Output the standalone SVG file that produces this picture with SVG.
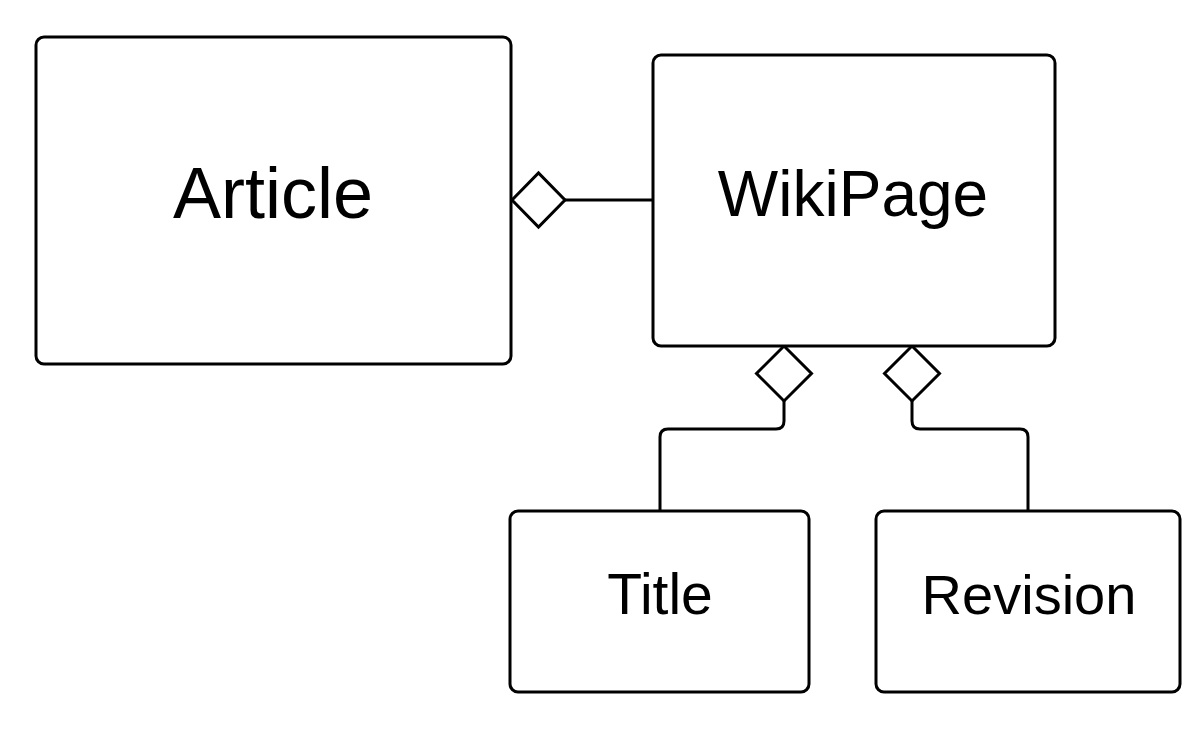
<svg xmlns="http://www.w3.org/2000/svg" width="1200" height="730" viewBox="0 0 1200 730">
<style>
.box{fill:#fff;stroke:#000;stroke-width:3}
.lbl{font-family:"Liberation Sans",Arial,sans-serif;fill:#000;text-anchor:middle}
.conn{fill:none;stroke:#000;stroke-width:3}
.dia{fill:#fff;stroke:#000;stroke-width:3}
</style>
<rect width="1200" height="730" fill="#fff"/>
<g id="connectors">
<path class="conn" d="M565,200 H653"/>
<path class="dia" d="M512,200 L538.5,173 L565,200 L538.5,227 Z"/>
<path class="conn" d="M784,401 V421 Q784,429 776,429 H668 Q660,429 660,437 V511"/>
<path class="dia" d="M784,346 L811.5,373.5 L784,401 L756.5,373.5 Z"/>
<path class="conn" d="M912,401 V421 Q912,429 920,429 H1020 Q1028,429 1028,437 V511"/>
<path class="dia" d="M912,346 L939.5,373.5 L912,401 L884.5,373.5 Z"/>
</g>
<g id="article">
<rect class="box" x="36" y="37" width="475" height="327" rx="8"/>
<text class="lbl" x="273" y="218" font-size="72">Article</text>
</g>
<g id="wikipage">
<rect class="box" x="653" y="55" width="402" height="291" rx="8"/>
<text class="lbl" x="853" y="216" font-size="64">WikiPage</text>
</g>
<g id="title">
<rect class="box" x="510" y="511" width="299" height="181" rx="8"/>
<text class="lbl" x="660" y="614" font-size="57">Title</text>
</g>
<g id="revision">
<rect class="box" x="876" y="511" width="304" height="181" rx="8"/>
<text class="lbl" x="1029" y="614" font-size="56">Revision</text>
</g>
</svg>
